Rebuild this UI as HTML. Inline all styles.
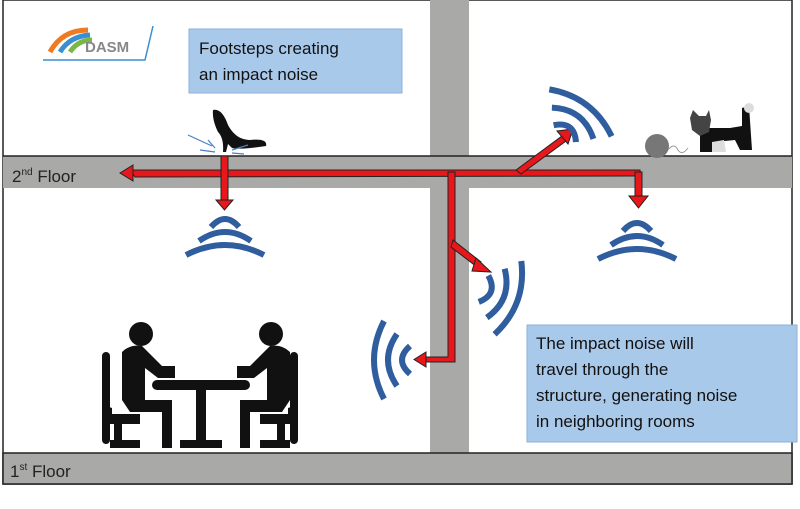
<!DOCTYPE html>
<html><head><style>
html,body{margin:0;padding:0;background:#fff;width:800px;height:509px;overflow:hidden}
.t{font-family:"Liberation Sans",sans-serif}
</style></head><body>
<svg width="800" height="509" viewBox="0 0 800 509" xmlns="http://www.w3.org/2000/svg">
<rect x="3" y="0" width="789" height="484" fill="#fff" stroke="#222" stroke-width="1.5"/>
<rect x="430" y="0" width="39" height="455" fill="#a9a9a7"/>
<rect x="3" y="156" width="789" height="32" fill="#a9a9a7"/>
<line x1="3" y1="156" x2="792" y2="156" stroke="#222" stroke-width="1.5"/>
<rect x="3" y="453" width="789" height="31" fill="#a9a9a7" stroke="#222" stroke-width="1.5"/>
<text class="t" x="12" y="182" font-size="17" fill="#222">2<tspan font-size="10" dy="-7">nd</tspan><tspan dy="7"> Floor</tspan></text>
<text class="t" x="10" y="477" font-size="17" fill="#222">1<tspan font-size="10" dy="-7">st</tspan><tspan dy="7"> Floor</tspan></text>
<path d="M50,52 Q62,30 88,30" stroke="#ee7a22" stroke-width="5" fill="none"/>
<path d="M60,52 Q70,36 90,35" stroke="#3a8fd0" stroke-width="5" fill="none"/>
<path d="M70,52 Q78,40 92,40" stroke="#7ab648" stroke-width="5" fill="none"/>
<text class="t" x="85" y="52" font-size="15" font-weight="bold" fill="#888">DASM</text>
<path d="M43,60 L145,60 L153,26" stroke="#3a8fd0" stroke-width="1.5" fill="none"/>
<rect x="189" y="29" width="213" height="64" fill="#a9c9ea" stroke="#8db1d8"/>
<text class="t" x="199" y="54" font-size="17" fill="#111">Footsteps creating</text>
<text class="t" x="199" y="80" font-size="17" fill="#111">an impact noise</text>
<rect x="527" y="325" width="270" height="117" fill="#a9c9ea" stroke="#8db1d8"/>
<text class="t" x="536" y="349" font-size="17" fill="#111">The impact noise will</text>
<text class="t" x="536" y="375" font-size="17" fill="#111">travel through the</text>
<text class="t" x="536" y="401" font-size="17" fill="#111">structure, generating noise</text>
<text class="t" x="536" y="427" font-size="17" fill="#111">in neighboring rooms</text>
<path d="M213,110 Q222,108 228,125 Q236,140 250,140 Q268,138 266,146 Q240,150 232,148 L228,144 L226,152 L223,152 Q224,138 218,132 Q212,120 213,110Z" fill="#111"/>
<g stroke="#4a7fc0" stroke-width="1.2"><line x1="188" y1="135" x2="212" y2="146"/><line x1="200" y1="150" x2="215" y2="152"/><line x1="208" y1="140" x2="215" y2="148"/><line x1="232" y1="150" x2="248" y2="145"/><line x1="232" y1="153" x2="244" y2="154"/></g>
<g fill="#e8171b" stroke="#222" stroke-width="1">
<path d="M130,170 L640,170 L641,176 L135,177 Z"/>
<polygon points="120,173 133,165 133,181"/>
<rect x="221" y="156" width="7" height="46"/>
<polygon points="216,200 233,200 224.5,210"/>
<rect x="635" y="172" width="7" height="26"/>
<polygon points="629,196 648,196 638.5,208"/>
<path d="M516,170 L562,136 L566,141 L521,174 Z"/>
<polygon points="557,131 573,129 568,144"/>
<path d="M448,172 L455,172 L455,362 L423,362 L423,357 L448,357 Z"/>
<polygon points="426,352 426,367 414,359.5"/>
<path d="M453,240 L481,262 L477,267 L451,247 Z"/>
<polygon points="476,258 491,272 472,271"/>
</g>
<g fill="none" stroke="#2f5d9e" stroke-width="6">
<g transform="translate(225,203)"><path d="M-14,24 Q0,8 14,24"/><path d="M-26,38 Q0,20 26,38"/><path d="M-39,52 Q0,32 39,52"/></g>
<g transform="translate(637,207)"><path d="M-14,24 Q0,8 14,24"/><path d="M-26,38 Q0,20 26,38"/><path d="M-39,52 Q0,32 39,52"/></g>
<g transform="translate(560,140) rotate(-143)"><path d="M-14,8 Q0,24 14,8"/><path d="M-26,21 Q0,39 26,21"/><path d="M-39,34 Q0,54 39,34"/></g>
<g transform="translate(476,286) rotate(-70)"><path d="M-14,8 Q0,24 14,8"/><path d="M-26,21 Q0,39 26,21"/><path d="M-39,34 Q0,54 39,34"/></g>
<g transform="translate(416,360) rotate(90)"><path d="M-14,6 Q0,22 14,6"/><path d="M-26,19 Q0,37 26,19"/><path d="M-39,32 Q0,52 39,32"/></g>
</g>
<circle cx="657" cy="146" r="12" fill="#777"/>
<path d="M668,150 q6,-8 10,0 q4,6 10,-2" stroke="#999" fill="none"/>
<path d="M700,128 L730,128 L742,126 L742,108 L749,106 L752,150 L740,150 L735,140 L715,142 L712,152 L700,152 Z" fill="#111"/>
<path d="M690,118 L693,110 L699,116 L706,116 L709,110 L711,120 L709,132 L700,136 L692,130 Z" fill="#444"/>
<circle cx="749" cy="108" r="5" fill="#ddd"/>
<path d="M712,142 L724,140 L726,152 L712,152Z" fill="#ddd"/>
<g fill="#111">
<circle cx="141" cy="334" r="12"/>
<path d="M122,352 Q130,344 142,346 L162,366 L175,366 L175,378 L158,378 L145,368 L145,400 L172,400 L172,448 L162,448 L162,412 L130,412 L122,400 Z"/>
<rect x="102" y="352" width="8" height="92" rx="4"/>
<path d="M106,406 L112,408 L112,414 L140,414 L140,424 L106,424 Z"/>
<rect x="114" y="424" width="8" height="20"/>
<rect x="110" y="440" width="30" height="8"/>
<circle cx="271" cy="334" r="12"/>
<path d="M290,352 Q282,344 270,346 L250,366 L237,366 L237,378 L254,378 L267,368 L267,400 L240,400 L240,448 L250,448 L250,412 L282,412 L290,400 Z"/>
<rect x="290" y="352" width="8" height="92" rx="4"/>
<path d="M294,406 L288,408 L288,414 L260,414 L260,424 L294,424 Z"/>
<rect x="277" y="424" width="8" height="20"/>
<rect x="260" y="440" width="30" height="8"/>
<rect x="152" y="380" width="98" height="10" rx="5"/>
<rect x="196" y="388" width="10" height="52"/>
<rect x="180" y="440" width="42" height="8"/>
</g>
</svg>
</body></html>
